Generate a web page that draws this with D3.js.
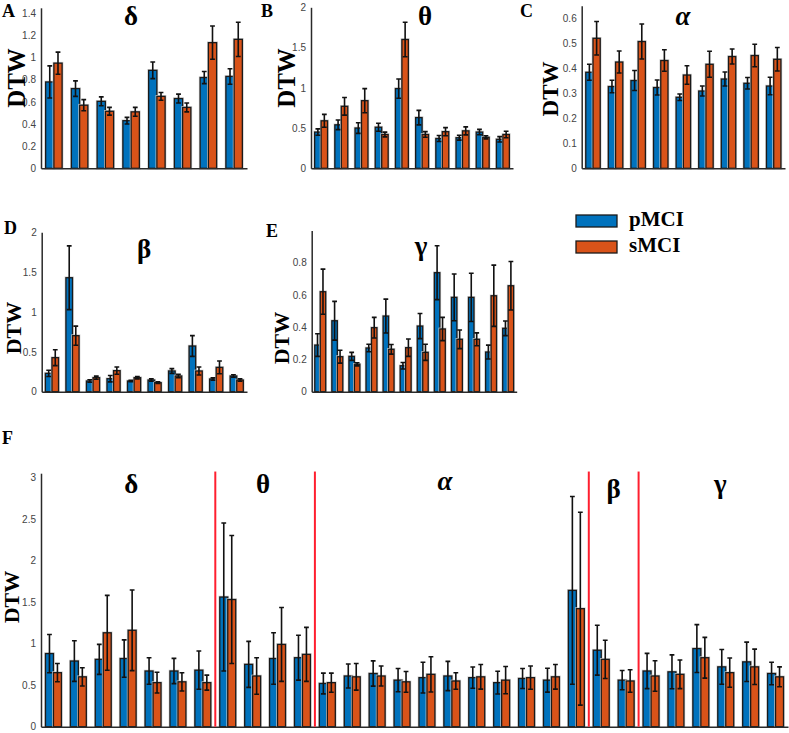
<!DOCTYPE html>
<html><head><meta charset="utf-8">
<script src="https://cdn.jsdelivr.net/npm/d3@7"></script>
<style>body{margin:0;background:#fff} svg{display:block}</style>
</head><body>
<svg id="chart" width="789" height="733"></svg>
<script>
// ---------------- DATA ----------------
const seriesNames = ["pMCI", "sMCI"];
// Panel A (delta)
const deltaP    = [0.78, 0.72, 0.605, 0.43, 0.885, 0.63, 0.82, 0.83];
const deltaPErr = [0.145, 0.07, 0.04, 0.03, 0.075, 0.04, 0.055, 0.07];
const deltaS    = [0.95, 0.57, 0.515, 0.51, 0.65, 0.55, 1.135, 1.165];
const deltaSErr = [0.10, 0.05, 0.035, 0.04, 0.035, 0.04, 0.15, 0.155];
// Panel B (theta)
const thetaP    = [0.45, 0.54, 0.50, 0.51, 0.99, 0.63, 0.37, 0.38, 0.45, 0.36];
const thetaPErr = [0.04, 0.06, 0.066, 0.05, 0.12, 0.09, 0.037, 0.03, 0.033, 0.033];
const thetaS    = [0.59, 0.77, 0.84, 0.42, 1.60, 0.42, 0.455, 0.465, 0.385, 0.42];
const thetaSErr = [0.08, 0.11, 0.15, 0.03, 0.215, 0.035, 0.05, 0.05, 0.02, 0.04];
// Panel C (alpha)
const alphaP    = [0.384, 0.327, 0.351, 0.323, 0.284, 0.309, 0.357, 0.34, 0.329];
const alphaPErr = [0.032, 0.025, 0.04, 0.03, 0.013, 0.02, 0.028, 0.023, 0.035];
const alphaS    = [0.52, 0.425, 0.507, 0.431, 0.373, 0.416, 0.447, 0.451, 0.436];
const alphaSErr = [0.067, 0.044, 0.07, 0.043, 0.037, 0.052, 0.03, 0.045, 0.047];
// Panel D (beta)
const betaP     = [0.23, 1.43, 0.134, 0.163, 0.134, 0.146, 0.26, 0.573, 0.159, 0.197];
const betaPErr  = [0.04, 0.40, 0.015, 0.04, 0.01, 0.015, 0.03, 0.13, 0.015, 0.015];
const betaS     = [0.427, 0.703, 0.176, 0.264, 0.176, 0.113, 0.197, 0.26, 0.305, 0.146];
const betaSErr  = [0.10, 0.12, 0.02, 0.045, 0.015, 0.01, 0.02, 0.05, 0.08, 0.015];
// Panel E (gamma)
const gammaP    = [0.289, 0.44, 0.219, 0.271, 0.469, 0.161, 0.407, 0.738, 0.585, 0.585, 0.246, 0.393];
const gammaPErr = [0.07, 0.12, 0.025, 0.023, 0.105, 0.02, 0.078, 0.167, 0.145, 0.15, 0.043, 0.045];
const gammaS    = [0.62, 0.217, 0.17, 0.397, 0.263, 0.273, 0.244, 0.389, 0.325, 0.325, 0.595, 0.657];
const gammaSErr = [0.14, 0.04, 0.01, 0.064, 0.03, 0.054, 0.05, 0.072, 0.058, 0.04, 0.19, 0.15];
// Panel F (all bands)
const fBands      = ["δ", "θ", "α", "β", "γ"];
const fDeltaP     = [0.88, 0.79, 0.81, 0.82, 0.67, 0.67, 0.68];
const fDeltaPErr  = [0.23, 0.245, 0.18, 0.225, 0.16, 0.152, 0.23];
const fDeltaS     = [0.65, 0.60, 1.13, 1.16, 0.53, 0.54, 0.53];
const fDeltaSErr  = [0.11, 0.11, 0.45, 0.485, 0.125, 0.11, 0.09];
const fThetaP     = [1.56, 0.75, 0.82, 0.83];
const fThetaPErr  = [0.89, 0.277, 0.31, 0.27];
const fThetaS     = [1.53, 0.61, 0.99, 0.87];
const fThetaSErr  = [0.77, 0.22, 0.445, 0.325];
const fAlphaP     = [0.52, 0.61, 0.64, 0.56, 0.59, 0.61, 0.59, 0.53, 0.58, 0.56, 1.64];
const fAlphaPErr  = [0.125, 0.145, 0.152, 0.14, 0.185, 0.176, 0.128, 0.137, 0.12, 0.144, 1.13];
const fAlphaS     = [0.53, 0.60, 0.61, 0.54, 0.63, 0.55, 0.60, 0.56, 0.59, 0.60, 1.42];
const fAlphaSErr  = [0.115, 0.16, 0.12, 0.125, 0.212, 0.10, 0.148, 0.164, 0.14, 0.148, 1.16];
const fBetaP      = [0.92, 0.56];
const fBetaPErr   = [0.30, 0.116];
const fBetaS      = [0.81, 0.55];
const fBetaSErr   = [0.23, 0.136];
const fGammaP     = [0.67, 0.66, 0.94, 0.72, 0.78, 0.64];
const fGammaPErr  = [0.212, 0.204, 0.288, 0.209, 0.237, 0.136];
const fGammaS     = [0.61, 0.63, 0.83, 0.65, 0.72, 0.60];
const fGammaSErr  = [0.184, 0.172, 0.245, 0.176, 0.213, 0.12];
// Tick labels
const ticksA = [0, 0.2, 0.4, 0.6, 0.8, 1, 1.2, 1.4];
const ticksB = [0, 0.5, 1, 1.5, 2];
const ticksC = [0, 0.1, 0.2, 0.3, 0.4, 0.5, 0.6];
const ticksD = [0, 0.5, 1, 1.5, 2];
const ticksE = [0, 0.2, 0.4, 0.6, 0.8];
const ticksF = [0, 0.5, 1, 1.5, 2, 2.5, 3];

// ---------------- STYLE / LAYOUT ----------------
const BLUE = "#0072BD", ORANGE = "#D95319";
const SERIF = "'Liberation Serif','Times New Roman',serif";
const SANS = "'Liberation Sans',Arial,sans-serif";
const svg = d3.select("#chart");
svg.append("rect").attr("width", 789).attr("height", 733).attr("fill", "#fff");

function panel(cfg) {
  const n = cfg.p.length;
  const x = d3.scaleBand().domain(d3.range(n)).range(cfg.xr).paddingInner(0).paddingOuter(0);
  const y = d3.scaleLinear().domain([0, cfg.ymax]).range(cfg.yr);
  const g = svg.append("g");
  const bw = x.bandwidth() * 0.32;
  const series = [
    { v: cfg.p, e: cfg.pe, c: BLUE, off: -1 },
    { v: cfg.s, e: cfg.se, c: ORANGE, off: 0 }
  ];
  series.forEach(s => {
    const gg = g.append("g");
    gg.selectAll("rect.halo").data(s.v).join("rect").attr("class", "halo")
      .attr("x", (d, i) => x(i) + x.bandwidth() / 2 + s.off * bw)
      .attr("y", d => y(d)).attr("width", bw).attr("height", d => y(0) - y(d))
      .attr("fill", "none").attr("stroke", "#cfcfcf").attr("stroke-width", 2.6);
    gg.selectAll("rect.bar").data(s.v).join("rect").attr("class", "bar")
      .attr("x", (d, i) => x(i) + x.bandwidth() / 2 + s.off * bw)
      .attr("y", d => y(d)).attr("width", bw).attr("height", d => y(0) - y(d))
      .attr("fill", s.c).attr("stroke", "#1a1a1a").attr("stroke-width", 1.3);
  });
  // error bars
  series.forEach(s => {
    const gg = g.append("g").attr("stroke", "#111").attr("stroke-width", 1.6).attr("fill", "none");
    const cx = i => x(i) + x.bandwidth() / 2 + s.off * bw + bw / 2;
    const cw = 2.4;
    gg.selectAll("path").data(s.v).join("path")
      .attr("d", (d, i) => {
        const xc = cx(i), yt = y(d + s.e[i]), yb = y(Math.max(0, d - s.e[i]));
        return `M${xc},${yt}V${yb}M${xc - cw},${yt}H${xc + cw}M${xc - cw},${yb}H${xc + cw}`;
      });
  });
  // axes
  const ya = g.append("g").attr("transform", `translate(${cfg.xr[0]},0)`)
    .call(d3.axisLeft(y).tickValues(cfg.ticks).tickSize(0).tickSizeOuter(0).tickPadding(5).tickFormat(d3.format("~g")));
  ya.selectAll("text").attr("font-family", SANS).attr("font-size", 10).attr("fill", "#444");
  ya.select(".domain").attr("stroke", "#2a2a2a").attr("stroke-width", 1.5);
  const xa = g.append("g").attr("transform", `translate(0,${cfg.yr[0]})`)
    .call(d3.axisBottom(x).tickSize(0).tickSizeOuter(0).tickFormat(""));
  xa.select(".domain").attr("stroke", "#2a2a2a").attr("stroke-width", 1.5);
  // letter
  svg.append("text").attr("x", cfg.letter[0]).attr("y", cfg.letter[1]).text(cfg.letterText)
    .attr("font-family", SERIF).attr("font-weight", "bold").attr("font-size", 18).attr("fill", "#000");
  // DTW label
  svg.append("text").attr("transform", `translate(${cfg.ylab[0]},${cfg.ylab[1]}) rotate(-90)`)
    .attr("text-anchor", "middle").attr("dominant-baseline", "central")
    .attr("font-family", SERIF).attr("font-weight", "bold").attr("font-size", cfg.ylab[2]).text("DTW");
  return { x, y, g };
}

function title(t, xpos, ypos, size) {
  const el = svg.append("text").attr("x", xpos).attr("y", ypos).attr("text-anchor", "middle")
    .attr("font-family", SERIF).attr("font-weight", "bold").attr("font-size", size || 27).text(t);
  if (t === "α") el.attr("font-style", "italic");
}

// Panel A
panel({ p: deltaP, pe: deltaPErr, s: deltaS, se: deltaSErr, xr: [41, 247], yr: [168.3, 7.8], ymax: 1.45,
  ticks: ticksA, letter: [2, 17], letterText: "A", ylab: [16, 78, 25] });
title("δ", 131, 25);
// Panel B
panel({ p: thetaP, pe: thetaPErr, s: thetaS, se: thetaSErr, xr: [311, 513], yr: [168.3, 7.3], ymax: 2,
  ticks: ticksB, letter: [261, 17], letterText: "B", ylab: [286, 78, 25] });
title("θ", 425, 25);
// Panel C
panel({ p: alphaP, pe: alphaPErr, s: alphaS, se: alphaSErr, xr: [581.7, 785], yr: [168.3, 5.8], ymax: 0.65,
  ticks: ticksC, letter: [520, 17], letterText: "C", ylab: [550, 89, 23] });
title("α", 683, 25);
// Panel D
panel({ p: betaP, pe: betaPErr, s: betaS, se: betaSErr, xr: [41.7, 247], yr: [391.7, 232.3], ymax: 2,
  ticks: ticksD, letter: [4, 234], letterText: "D", ylab: [13, 328, 22] });
title("β", 144, 258);
// Panel E
panel({ p: gammaP, pe: gammaPErr, s: gammaS, se: gammaSErr, xr: [311.7, 516.7], yr: [391.7, 230.45], ymax: 1,
  ticks: ticksE, letter: [266, 237], letterText: "E", ylab: [281, 338, 22] });
title("γ", 421, 255);

// Legend
const legY = [215, 241];
seriesNames.forEach((nm, i) => {
  svg.append("rect").attr("x", 576).attr("y", legY[i]).attr("width", 41).attr("height", 12)
    .attr("fill", i === 0 ? BLUE : ORANGE).attr("stroke", "#1a1a1a").attr("stroke-width", 1.3);
  svg.append("text").attr("x", 629).attr("y", legY[i] + 11).text(nm)
    .attr("font-family", SERIF).attr("font-weight", "bold").attr("font-size", 21);
});

// Panel F
const fGroups = [
  [fDeltaP, fDeltaPErr, fDeltaS, fDeltaSErr],
  [fThetaP, fThetaPErr, fThetaS, fThetaSErr],
  [fAlphaP, fAlphaPErr, fAlphaS, fAlphaSErr],
  [fBetaP, fBetaPErr, fBetaS, fBetaSErr],
  [fGammaP, fGammaPErr, fGammaS, fGammaSErr]
];
const fP = fGroups.flatMap(g => g[0]), fPE = fGroups.flatMap(g => g[1]);
const fS = fGroups.flatMap(g => g[2]), fSE = fGroups.flatMap(g => g[3]);
const F = panel({ p: fP, pe: fPE, s: fS, se: fSE, xr: [41, 788], yr: [726.7, 473.2], ymax: 3.05,
  ticks: ticksF, letter: [2, 444], letterText: "F", ylab: [11, 597, 22] });
// separators & band titles
let start = 0;
const titleDx = [3, -2, -7, 0, 7];
const titleY = [493, 493, 490, 498, 493];
fGroups.forEach((g, k) => {
  const n = g[0].length;
  const x0 = F.x(start), x1 = start + n < fP.length ? F.x(start + n) : F.x.range()[1];
  if (start + n < fP.length) {
    svg.append("line").attr("x1", x1).attr("x2", x1).attr("y1", F.y(3.07)).attr("y2", F.y(0))
      .attr("stroke", "#ff1f2f").attr("stroke-width", 2);
  }
  title(fBands[k], (x0 + x1) / 2 + titleDx[k], titleY[k], 27);
  start += n;
});
</script>
</body></html>
